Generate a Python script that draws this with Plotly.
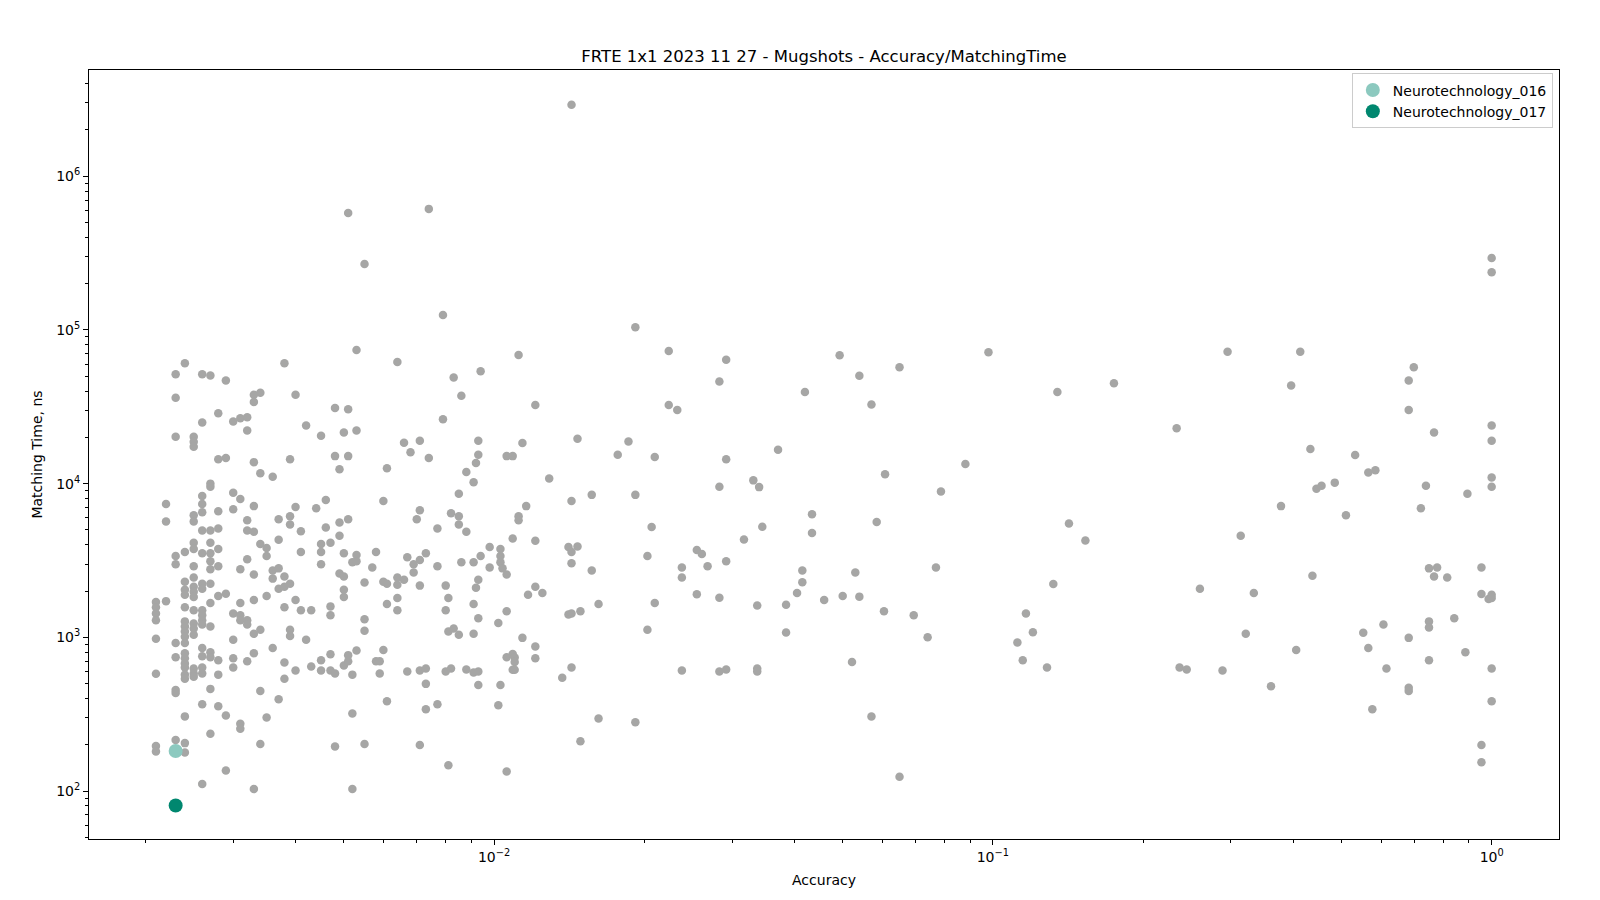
import plotly.graph_objects as go

# ---- data (accuracy columns and matching times, ns) ----
col_accuracy = [
    0.0021, 0.0022, 0.0023, 0.0024, 0.0025, 0.0026, 0.0027, 0.0028, 0.0029, 0.0030,
    0.0031, 0.0032, 0.0033, 0.0034, 0.0035, 0.0036, 0.0037, 0.0038, 0.0039, 0.0040,
    0.0041, 0.0042, 0.0043, 0.0044, 0.0045, 0.0046, 0.0047, 0.0048, 0.0049, 0.0050,
    0.0051, 0.0052, 0.0053, 0.0055, 0.0057, 0.0058, 0.0059, 0.0060, 0.0061, 0.0064,
    0.0066, 0.0067, 0.0068, 0.0069, 0.0070, 0.0071, 0.0073, 0.0074, 0.0077, 0.0079,
    0.0080, 0.0081, 0.0082, 0.0083, 0.0085, 0.0086, 0.0088, 0.0091, 0.0092, 0.0093,
    0.0094, 0.0098, 0.0102, 0.0103, 0.0104, 0.0106, 0.0109, 0.0110, 0.0112, 0.0114,
    0.0116, 0.0117, 0.0121, 0.0125, 0.0129, 0.0137, 0.0141, 0.0143, 0.0147, 0.0149,
    0.0157, 0.0162, 0.0177, 0.0186, 0.0192, 0.0203, 0.0207, 0.0210, 0.0224, 0.0233,
    0.0238, 0.0255, 0.0261, 0.0268, 0.0283, 0.0292, 0.0317, 0.0331, 0.0337, 0.0340,
    0.0345, 0.0371, 0.0385, 0.0405, 0.0415, 0.0420, 0.0434, 0.0459, 0.0493, 0.0500,
    0.0522, 0.0530, 0.0540, 0.0571, 0.0585, 0.0605, 0.0608, 0.0650, 0.0694, 0.0740,
    0.0769, 0.0787, 0.0881, 0.0980, 0.1120, 0.1148, 0.1165, 0.1203, 0.1284, 0.1322,
    0.1347, 0.1421, 0.1533, 0.1749, 0.2336, 0.2368, 0.2447, 0.2601, 0.2887, 0.2955,
    0.3140, 0.3214, 0.3336, 0.3611, 0.3782, 0.3963, 0.4056, 0.4133, 0.4331, 0.4372,
    0.4454, 0.4560, 0.4847, 0.5104, 0.5325, 0.5528, 0.5659, 0.5765, 0.5846, 0.6068,
    0.6153, 0.6819, 0.6981, 0.7213, 0.7383, 0.7488, 0.7665, 0.7774, 0.8145, 0.8414,
    0.8857, 0.8941, 0.9540, 0.9860, 1.0,
]

col_times = [
    [1700, 1570, 1430, 1290, 980, 580, 196, 181],
    [7360, 5680, 1720],
    [51400, 36150, 20200, 3380, 2990, 919, 742, 455, 435, 215, 181],
    [60800, 3590, 2300, 2040, 1890, 1570, 1270, 1175, 1090, 1010, 919, 789, 731, 677, 637, 572, 538, 306, 205, 178],
    [20200, 18700, 17350, 6220, 5680, 4120, 3760, 2900, 2450, 2130, 1980, 1830, 1500, 1230, 1140, 1040, 627, 581, 555],
    [51400, 25000, 8320, 7360, 6520, 4950, 3530, 2230, 2070, 1500, 1390, 1290, 1210, 851, 754, 637, 581, 367, 111],
    [50600, 10000, 9550, 4950, 4120, 3530, 3130, 2770, 2230, 1670, 1175, 801, 742, 462, 236],
    [28700, 14400, 6620, 5100, 3760, 2900, 1860, 709, 572, 356],
    [46900, 14700, 1920, 310, 136],
    [25400, 8710, 6820, 1430, 963, 731, 637],
    [26600, 7950, 2770, 1670, 1390, 1290, 274, 254],
    [27000, 22200, 5770, 4950, 3220, 1290, 1210, 698],
    [37850, 34000, 13800, 7140, 4870, 2560, 1750, 1055, 789, 103],
    [39000, 11700, 4050, 1120, 448, 202],
    [3810, 3380, 1860, 301],
    [11100, 2720, 2410, 851],
    [5860, 4310, 2810, 2070, 396],
    [60800, 2490, 2130, 1570, 687, 538],
    [14400, 6130, 5420, 2230, 1120, 1020],
    [37900, 7040, 1750, 608],
    [4900, 3590, 1500],
    [23900, 963],
    [1500, 646],
    [6920],
    [20500, 4050, 3590, 2990, 709, 608],
    [7830, 5180],
    [4120, 1590, 1390, 777, 608],
    [31000, 15100, 581, 195],
    [12400, 5590, 4580, 2600],
    [21500, 3530, 2490, 2040, 1830, 656],
    [577000, 30500, 15100, 5860, 766, 698],
    [320, 103, 3080, 572],
    [74100, 22200, 3430, 3130, 821],
    [268000, 2270, 1310, 1105, 202],
    [2850],
    [3590, 698],
    [698, 581],
    [7710, 2300, 826],
    [12600, 2230, 1645, 384],
    [61800, 2450, 2200, 1800, 1500],
    [18450, 2370],
    [3320, 600],
    [16000],
    [2990, 2640],
    [5860],
    [19000, 6720, 3180, 2170, 608, 199],
    [3530, 627, 498, 340],
    [14700, 613000],
    [5100, 2900, 367],
    [125000, 26200],
    [2170, 1500, 600],
    [1800, 1090, 147],
    [6420, 627],
    [49100, 1140],
    [8580, 6130, 5420, 1040],
    [37300, 3080],
    [11900, 4870, 617],
    [10200, 3080, 1645, 1055, 590],
    [13600, 2100],
    [19000, 15400, 2370, 1330, 600, 490],
    [53800, 3380],
    [3870, 2850],
    [1240, 361],
    [3760, 3380, 3080, 490],
    [2810],
    [15100, 2560, 1480, 742, 134],
    [15100, 4400, 780, 615],
    [740, 690, 615],
    [68700, 6130, 5770],
    [18400, 992],
    [7140],
    [1890],
    [32500, 4250, 2130, 873, 731],
    [1940],
    [10800],
    [546],
    [1410, 3870],
    [2920000, 7710, 3590, 3030, 1430, 637],
    [19600, 3900],
    [1480, 211],
    [8450, 2725],
    [1645, 296],
    [15400],
    [18800],
    [104000, 8450, 280],
    [1120, 3380],
    [5230],
    [14900, 1670],
    [72800, 32500],
    [30100],
    [2850, 2450, 608],
    [3700, 1910],
    [3480],
    [2900],
    [46200, 9550, 1810, 600],
    [64000, 14400, 3130, 617],
    [4330],
    [10500],
    [1610, 627, 600],
    [9490],
    [5240],
    [16600],
    [1630, 1076],
    [1940],
    [2725, 2280],
    [39500],
    [6320, 4780],
    [1750],
    [68500],
    [1860],
    [690],
    [2640],
    [50400, 1840],
    [32700, 305],
    [5620],
    [1480],
    [11500],
    [57200, 124],
    [1390],
    [1000],
    [2850],
    [8900],
    [13400],
    [71500],
    [927],
    [709],
    [1430],
    [1080],
    [637],
    [2220],
    [39500],
    [5500],
    [4270],
    [45000],
    [22900],
    [637],
    [617],
    [2070],
    [608],
    [72000],
    [4580],
    [1055],
    [1945],
    [480],
    [7140],
    [43500],
    [826],
    [72000],
    [16800],
    [2520],
    [9270],
    [9700],
    [10150],
    [6220],
    [15350],
    [1070],
    [851, 11800],
    [340],
    [12200],
    [1210],
    [627],
    [46900, 30100, 992, 470, 448],
    [57200],
    [6920],
    [9700],
    [2810, 1270, 1157, 709],
    [21500, 2490],
    [2850],
    [2450],
    [1330],
    [801],
    [8580],
    [2850, 1915, 199, 154],
    [1775],
    [294000, 237000, 23900, 19000, 10950, 9550, 1890, 1800, 627, 384],
]

highlight_names = ["Neurotechnology_016", "Neurotechnology_017"]
highlight_accuracy = [0.0023, 0.0023]
highlight_times = [182, 80.5]
highlight_colors = ["#8CC9BF", "#00876F"]

x_major = [0.01, 0.1, 1]
x_major_text = ["10<sup>\u22122</sup>", "10<sup>\u22121</sup>", "10<sup>0</sup>"]
y_major = [1e2, 1e3, 1e4, 1e5, 1e6]
y_major_text = ["10<sup>2</sup>", "10<sup>3</sup>", "10<sup>4</sup>", "10<sup>5</sup>", "10<sup>6</sup>"]

# ---- flatten ----
acc_all, time_all = [], []
for a, ts in zip(col_accuracy, col_times):
    for t in ts:
        acc_all.append(a)
        time_all.append(t)

x_minor = [m * 10.0 ** e for e in (-3, -2, -1) for m in range(2, 10)]
y_minor = [m * 10.0 ** e for e in (1, 2, 3, 4, 5, 6) for m in range(2, 10)]

FONT = "DejaVu Sans"

fig = go.Figure()
fig.add_trace(go.Scatter(
    x=acc_all, y=time_all, mode="markers",
    marker=dict(color="#A6A6A5", size=8.5, line=dict(width=0)),
    showlegend=False, hoverinfo="x+y",
))
for name, a, t, c in zip(highlight_names, highlight_accuracy, highlight_times, highlight_colors):
    fig.add_trace(go.Scatter(
        x=[a], y=[t], mode="markers", name=name,
        marker=dict(color=c, size=14, line=dict(width=0)),
    ))

axis_common = dict(
    type="log", showgrid=False, zeroline=False,
    showline=True, linecolor="black", linewidth=1, mirror=True,
    ticks="outside", ticklen=5, tickwidth=1, tickcolor="black",
    tickfont=dict(family=FONT, size=14, color="black"),
)

fig.update_layout(
    width=1600, height=900,
    paper_bgcolor="white", plot_bgcolor="white",
    margin=dict(l=89, r=41, t=70, b=61),
    font=dict(family=FONT, color="black"),
    title=dict(
        text="FRTE 1x1 2023 11 27 - Mugshots - Accuracy/MatchingTime",
        x=0.5, xref="paper", xanchor="center",
        y=1 - 56 / 900, yref="container", yanchor="middle",
        font=dict(family=FONT, size=16.5, color="black"),
    ),
    xaxis=dict(
        **axis_common,
        range=[-2.812, 0.135],
        tickmode="array", tickvals=x_major, ticktext=x_major_text,
        minor=dict(tickmode="array", tickvals=x_minor, ticks="outside",
                   ticklen=3, tickwidth=0.8, tickcolor="black", showgrid=False),
        title=dict(text="Accuracy", font=dict(family=FONT, size=14, color="black"), standoff=11),
    ),
    yaxis=dict(
        **axis_common,
        range=[1.688, 6.691],
        tickmode="array", tickvals=y_major, ticktext=y_major_text,
        minor=dict(tickmode="array", tickvals=y_minor, ticks="outside",
                   ticklen=3, tickwidth=0.8, tickcolor="black", showgrid=False),
        title=dict(text="Matching Time, ns", font=dict(family=FONT, size=14, color="black"), standoff=10),
    ),
    legend=dict(
        x=0.9958, xanchor="right", y=0.9955, yanchor="top",
        bgcolor="rgba(255,255,255,0.8)", bordercolor="#cccccc", borderwidth=1,
        font=dict(family=FONT, size=14, color="black"),
        itemsizing="trace",
    ),
)

fig.write_html(
    "out.html",
    config={"displayModeBar": False},
    post_script="document.body.style.margin='0';",
)
